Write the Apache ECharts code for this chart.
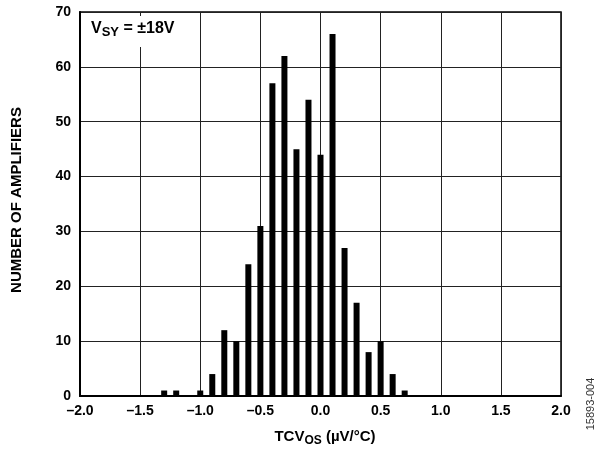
<!DOCTYPE html>
<html><head><meta charset="utf-8">
<script src="https://cdn.jsdelivr.net/npm/echarts@6/dist/echarts.min.js"></script>
<style>html,body{margin:0;padding:0;background:#fff}#c{width:601px;height:451px}</style>
</head><body><div id="c"></div>
<script>
const binCenters = [-1.3,-1.2,-1.0,-0.9,-0.8,-0.7,-0.6,-0.5,-0.4,-0.3,-0.2,-0.1,0.0,0.1,0.2,0.3,0.4,0.5,0.6,0.7];
const counts = [1,1,1,4,12,10,24,31,57,62,45,54,44,66,27,17,8,10,4,1];
const xTicks = ['–2.0','–1.5','–1.0','–0.5','0.0','0.5','1.0','1.5','2.0'];
const yTicks = ['0','10','20','30','40','50','60','70'];

const FONT = "'Liberation Sans', Arial, sans-serif";
const chart = echarts.init(document.getElementById('c'), null, {renderer:'canvas'});
const data = binCenters.map((x,i)=>[x,counts[i]]);
chart.setOption({
  animation:false,
  backgroundColor:'#fff',
  grid:{left:80,right:40,top:12,bottom:55,show:true,borderColor:'#000',borderWidth:1.5,backgroundColor:'transparent'},
  xAxis:{type:'value',min:-2,max:2,interval:0.5,
    axisLine:{show:true,onZero:false,lineStyle:{color:'#000',width:2}},
    axisTick:{show:false},
    splitLine:{show:true,lineStyle:{color:'#222',width:1}},
    axisLabel:{margin:8,color:'#000',fontWeight:'bold',fontSize:14,fontFamily:FONT,
      formatter:v=>xTicks[Math.round((v+2)/0.5)]}},
  yAxis:{type:'value',min:0,max:70,interval:10,
    axisLine:{show:true,onZero:false,lineStyle:{color:'#000',width:2}},
    axisTick:{show:false},
    splitLine:{show:true,lineStyle:{color:'#222',width:1}},
    axisLabel:{margin:9,color:'#000',fontWeight:'bold',fontSize:14,fontFamily:FONT,
      formatter:v=>yTicks[Math.round(v/10)]}},
  series:[{type:'bar',data:data,barWidth:6,itemStyle:{color:'#000'},silent:true}],
  graphic:[
    {type:'rect',left:84,top:16,shape:{width:106,height:31},style:{fill:'#fff'},z:100},
    {type:'text',left:91,top:21,z:101,style:{
      text:'V{s|SY} = ±18V',
      font:"bold 16px "+FONT,fill:'#000',
      rich:{s:{fontSize:13,fontWeight:'bold',fontFamily:FONT,padding:[7,0,0,0],fill:'#000'}}}},
    {type:'text',x:325,y:437,z:101,style:{
      text:'TCV{s|OS} (µV/°C)',align:'center',verticalAlign:'middle',
      font:"bold 15px "+FONT,fill:'#000',
      rich:{s:{fontSize:12,fontWeight:'bold',fontFamily:FONT,padding:[7,0,0,0],fill:'#000'}}}},
    {type:'text',x:17,y:200,rotation:Math.PI/2,z:101,style:{
      text:'NUMBER OF AMPLIFIERS',align:'center',verticalAlign:'middle',
      font:"bold 15px "+FONT,fill:'#000'}},
    {type:'text',x:591,y:404,rotation:Math.PI/2,z:101,style:{
      text:'15893-004',align:'center',verticalAlign:'middle',
      font:"11px "+FONT,fill:'#333'}}
  ]
});
</script></body></html>
